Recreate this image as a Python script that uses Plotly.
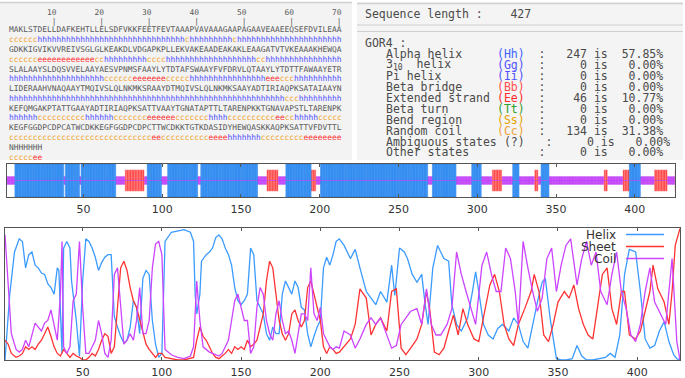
import plotly.graph_objects as go

W, H = 685, 378

# ---------------- data ----------------
SEQ_LINES = [
    "MAKLSTDELLDAFKEHTLLELSDFVKKFEETFEVTAAAPVAVAAAGAAPAGAAVEAAEEQSEFDVILEAA",
    "GDKKIGVIKVVREIVSGLGLKEAKDLVDGAPKPLLEKVAKEAADEAKAKLEAAGATVTVKEAAAKHEWQA",
    "SLALAAYSLDQSVVELAAYAESVPNMSFAAYLYTDTAFSWAAYFVFDRVLQTAAYLYTDTTFAWAAYETR",
    "LIDERAAHVNAQAAYTMQIVSLQLNKMKSRAAYDTMQIVSLQLNKMKSAAYADTIRIAQPKSATAIAAYN",
    "KEFQMGAKPTATTGAAYADTIRIAQPKSATTVAAYTGNATAPTTLTARENPKKTGNAVAPSTLTARENPK",
    "KEGFGGDPCDPCATWCDKKEGFGGDPCDPCTTWCDKKTGTKDASIDYHEWQASKKAQPKSATTVFDVTTL",
    "NHHHHHH",
]
PRED_LINES = [
    "cccccc" "hhhhhhhhhh" "hhhhhhhhhh" "hhhhhhhhhh" "h" "c" "hhhhhhhhh" "c" "hhhhhhhhhh" "hhhhhhhhhh" "hh",
    "cccccc" "eeeeeeeeee" "ee" "cc" "hhhhhhhhh" "cccc" "hhhhhhhhhh" "hhhhhhhhh" "cc" "hhhhhhhhhh" "hhhhhh",
    "hhhhhhhhhh" "hhhhhhhhhh" "cccccc" "eeeeeee" "ccccc" "hhhhhhhhhh" "hhhhhh" "eee" "ccc" "hhhhhhhhhh",
    "hhhhhhhhhh" "hhhhhhhhhh" "hhhhhhhhhh" "hhhhhhhhhh" "hhhhhhhhhh" "hhhhhhhh" "ccc" "hhhhhhhhh",
    "hhhhhh" "cccccccccc" "hhhhhh" "ccccccc" "eeeeee" "ccccccc" "hhhh" "cccccccccc" "ee" "cc" "hhhhh" "ccccc",
    "cccccccccc" "cccccccccc" "cccccccccc" "ee" "cccccccccc" "eeee" "hhhhhhh" "ccccccccc" "eeeeeeee",
    "ccccc" "ee",
]
RULER_TICKS = [10, 20, 30, 40, 50, 60, 70]

STAT_NAMES = ["Alpha helix", "3<sub>10</sub>", "Pi helix", "Beta bridge", "Extended strand",
              "Beta turn", "Bend region", "Random coil", "Ambiguous states", "Other states"]
STAT_CODES = ["Hh", "Gg", "Ii", "Bb", "Ee", "Tt", "Ss", "Cc", "?", ""]
STAT_COUNTS = ["247", "0", "0", "0", "46", "0", "0", "134", "0", "0"]
STAT_PCTS = ["57.85%", "0.00%", "0.00%", "0.00%", "10.77%", "0.00%", "0.00%", "31.38%", "0.00%", "0.00%"]
SEQ_LENGTH = "427"

AXIS_TICKS = [50, 100, 150, 200, 250, 300, 350, 400]

HELIX_X = [1, 4, 7, 10, 12, 14, 16, 18, 20, 22, 24, 26, 28, 30, 32, 34, 35, 36, 37, 38, 40, 42, 43, 44, 46, 48,
           50, 52, 54, 56, 58, 60, 62, 64, 66, 68, 69, 70, 72, 74, 76, 78, 80, 82, 84, 86, 88, 90, 92, 94, 96,
           98, 100, 102, 106, 110, 114, 118, 120, 121, 122, 124, 125, 128, 130, 132, 134, 136, 138, 140, 142,
           144, 146, 148, 150, 152, 154, 156, 158, 160, 162, 164, 166, 168, 170, 172, 174, 176, 178, 180, 182,
           184, 186, 188, 190, 192, 194, 196, 198, 200, 202, 204, 206, 208, 210, 212, 215, 219, 222, 225, 229,
           232, 235, 238, 242, 245, 247, 250, 253, 255, 258, 261, 264, 266, 268, 271, 274, 278, 281, 283, 286,
           289, 293, 296, 298, 300, 303, 306, 309, 312, 315, 319, 322, 325, 328, 331, 334, 337, 340, 342, 345,
           349, 352, 355, 359, 362, 365, 368, 372, 376, 380, 383, 386, 389, 392, 395, 399, 402, 405, 408, 411,
           414, 417, 420, 423, 425, 427]
HELIX = [0.0, 0.5, 0.82, 0.92, 0.9, 0.7, 0.8, 0.82, 0.72, 0.7, 0.66, 0.65, 0.58, 0.55, 0.5, 0.7, 0.68, 0.4,
         0.05, 0.85, 0.9, 0.85, 0.6, 0.5, 0.3, 0.03, 0.6, 0.92, 0.9, 0.85, 0.78, 0.68, 0.74, 0.78, 0.8, 0.8,
         0.5, 0.33, 0.25, 0.18, 0.13, 0.15, 0.25, 0.45, 0.4, 0.2, 0.62, 0.68, 0.65, 0.3, 0.12, 0.02, 0.05, 0.9,
         0.97, 0.98, 0.99, 0.97, 0.9, 0.5, 0.35, 0.5, 0.75, 0.8, 0.82, 0.85, 0.93, 0.95, 0.92, 0.85, 0.8,
         0.72, 0.55, 0.45, 0.42, 0.45, 0.5, 0.85, 0.8, 0.45, 0.4, 0.35, 0.2, 0.15, 0.25, 0.2, 0.2, 0.5, 0.6,
         0.55, 0.5, 0.6, 0.55, 0.4, 0.38, 0.2, 0.1, 0.18, 0.25, 0.3, 0.7, 0.78, 0.72, 0.8, 0.9, 0.92, 0.87,
         0.77, 0.84, 0.70, 0.52, 0.47, 0.42, 0.52, 0.44, 0.72, 0.49, 0.85, 0.82, 0.77, 0.65, 0.59, 0.65, 0.44,
         0.27, 0.70, 0.87, 0.77, 0.75, 0.42, 0.27, 0.22, 0.32, 0.52, 0.67, 0.52, 0.27, 0.19, 0.16, 0.24, 0.27,
         0.22, 0.32, 0.27, 0.14, 0.09, 0.27, 0.44, 0.59, 0.62, 0.32, 0.01, 0.0, 0.0, 0.01, 0.11, 0.03, 0.0,
         0.0, 0.01, 0.02, 0.05, 0.02, 0.19, 0.65, 0.84, 0.82, 0.52, 0.16, 0.09, 0.11, 0.22, 0.29, 0.14, 0.04,
         0.01, 0.0]

SHEET_X = [1, 3, 5, 8, 10, 12, 14, 16, 18, 20, 22, 24, 26, 28, 30, 32, 34, 36, 38, 40, 42, 44, 46, 48, 50,
           52, 54, 56, 58, 60, 62, 64, 66, 68, 70, 72, 74, 76, 78, 80, 82, 84, 86, 88, 90, 92, 94, 96, 98, 100,
           102, 106, 110, 114, 118, 120, 122, 124, 126, 128, 130, 132, 134, 136, 138, 140, 142, 144, 146, 148,
           150, 152, 154, 156, 158, 160, 162, 164, 166, 168, 170, 172, 174, 176, 178, 180, 182, 184, 186, 188,
           190, 192, 194, 196, 198, 200, 202, 204, 206, 208, 210, 212, 219, 222, 225, 229, 232, 235, 238, 242,
           245, 248, 251, 254, 257, 261, 264, 267, 269, 272, 275, 278, 281, 284, 287, 290, 293, 297, 300, 303,
           307, 310, 313, 316, 319, 322, 325, 329, 333, 335, 338, 341, 344, 347, 350, 354, 357, 360, 363, 366,
           369, 372, 375, 378, 381, 384, 387, 390, 392, 395, 399, 402, 405, 408, 410, 413, 417, 420, 422, 424,
           427]
SHEET = [0.15, 0.12, 0.05, 0.02, 0.03, 0.05, 0.1, 0.08, 0.1, 0.08, 0.12, 0.15, 0.2, 0.25, 0.18, 0.1, 0.05,
         0.03, 0.08, 0.05, 0.02, 0.05, 0.03, 0.02, 0.0, 0.0, 0.02, 0.05, 0.03, 0.08, 0.15, 0.2, 0.18, 0.05,
         0.1, 0.4, 0.7, 0.75, 0.68, 0.55, 0.45, 0.4, 0.3, 0.2, 0.12, 0.08, 0.05, 0.02, 0.05, 0.05, 0.02, 0.01,
         0.0, 0.0, 0.01, 0.02, 0.15, 0.25, 0.18, 0.15, 0.1, 0.05, 0.02, 0.01, 0.03, 0.05, 0.08, 0.05, 0.1,
         0.08, 0.1, 0.08, 0.15, 0.1, 0.12, 0.15, 0.25, 0.35, 0.6, 0.75, 0.7, 0.5, 0.3, 0.2, 0.15, 0.2, 0.35,
         0.38, 0.3, 0.25, 0.3, 0.55, 0.6, 0.5, 0.4, 0.3, 0.1, 0.05, 0.1, 0.08, 0.05, 0.06, 0.16, 0.27, 0.54,
         0.47, 0.19, 0.27, 0.32, 0.22, 0.52, 0.54, 0.09, 0.04, 0.09, 0.16, 0.27, 0.52, 0.39, 0.06, 0.04, 0.09,
         0.22, 0.34, 0.19, 0.39, 0.27, 0.16, 0.14, 0.32, 0.57, 0.65, 0.52, 0.27, 0.16, 0.11, 0.27, 0.39, 0.52,
         0.65, 0.52, 0.19, 0.14, 0.27, 0.44, 0.52, 0.47, 0.57, 0.39, 0.27, 0.19, 0.16, 0.39, 0.65, 0.70, 0.39,
         0.27, 0.52, 0.52, 0.19, 0.16, 0.22, 0.37, 0.52, 0.72, 0.54, 0.44, 0.27, 0.52, 0.87, 1.0]

COIL_X = [1, 3, 5, 8, 10, 12, 14, 16, 18, 20, 22, 24, 26, 28, 30, 32, 34, 36, 37, 38, 40, 42, 44, 46, 48, 50,
          52, 54, 56, 58, 60, 62, 64, 66, 68, 70, 72, 74, 76, 78, 80, 82, 84, 86, 88, 90, 92, 94, 96, 98, 100,
          102, 106, 110, 114, 118, 120, 122, 124, 126, 128, 130, 132, 134, 136, 138, 140, 142, 144, 146, 148,
          150, 152, 154, 156, 158, 160, 162, 164, 166, 168, 170, 172, 174, 176, 178, 180, 182, 184, 186, 188,
          190, 192, 194, 196, 198, 200, 202, 204, 206, 208, 210, 212, 215, 219, 222, 225, 229, 232, 235, 238,
          242, 245, 248, 251, 254, 257, 261, 264, 267, 270, 273, 276, 280, 283, 286, 289, 292, 295, 298, 302,
          305, 308, 311, 314, 317, 320, 323, 325, 328, 331, 334, 337, 340, 343, 346, 349, 352, 355, 358, 362,
          365, 368, 371, 374, 377, 381, 384, 387, 390, 393, 396, 399, 402, 405, 408, 411, 415, 418, 420, 422,
          425, 427]
COIL = [0.95, 0.6, 0.2, 0.08, 0.06, 0.08, 0.15, 0.1, 0.2, 0.28, 0.25, 0.22, 0.28, 0.3, 0.38, 0.25, 0.15, 0.5,
        0.9, 0.1, 0.05, 0.1, 0.45, 0.5, 0.9, 0.4, 0.05, 0.05, 0.1, 0.15, 0.3, 0.2, 0.05, 0.02, 0.15, 0.65, 0.7,
        0.4, 0.12, 0.15, 0.2, 0.15, 0.3, 0.55, 0.2, 0.2, 0.3, 0.7, 0.88, 0.9, 0.8, 0.08, 0.04, 0.02, 0.01,
        0.03, 0.1, 0.6, 0.3, 0.1, 0.08, 0.06, 0.05, 0.04, 0.03, 0.05, 0.1, 0.15, 0.3, 0.45, 0.5, 0.4, 0.3,
        0.3, 0.05, 0.1, 0.4, 0.55, 0.5, 0.3, 0.2, 0.15, 0.35, 0.45, 0.3, 0.2, 0.22, 0.15, 0.05, 0.2, 0.35,
        0.35, 0.3, 0.7, 0.35, 0.3, 0.4, 0.2, 0.15, 0.1, 0.08, 0.1, 0.09, 0.22, 0.19, 0.09, 0.16, 0.27, 0.32,
        0.27, 0.32, 0.19, 0.09, 0.11, 0.27, 0.32, 0.37, 0.39, 0.27, 0.54, 0.27, 0.19, 0.19, 0.27, 0.39, 0.82,
        0.65, 0.52, 0.39, 0.27, 0.72, 0.82, 0.65, 0.52, 0.52, 0.85, 0.77, 0.52, 0.27, 0.90, 0.70, 0.52, 0.37,
        0.47, 0.77, 0.85, 0.52, 0.72, 0.87, 0.92, 0.57, 0.77, 0.90, 0.72, 0.82, 0.52, 0.42, 0.65, 0.82, 0.52,
        0.39, 0.19, 0.14, 0.27, 0.52, 0.70, 0.44, 0.34, 0.27, 0.52, 0.77, 0.14, 0.0]

SERIES_NAMES = ["Helix", "Sheet", "Coil"]

# ---------------- styles ----------------
C_H, C_E, C_C = "#3b9bff", "#ff3333", "#cc44ff"
PRED_COLORS = {"h": "#5050ff", "e": "#ff2b2b", "c": "#f2a531"}
CODE_COLORS = {"Hh": "#3f63ff", "Gg": "#5050ff", "Ii": "#5050ff", "Bb": "#ff4d4d", "Ee": "#ff2b2b",
               "Tt": "#2f9f2f", "Ss": "#e8a200", "Cc": "#f0a030", "?": "#555555", "": "#555555"}
NB = "\u00a0"


def fx(p):
    return p / W


def fy(p):
    return 1 - p / H


fig = go.Figure()

# ---- track of predicted states ----
pred = "".join(PRED_LINES)
track_style = {
    "h": dict(base=-1.0, h=2.0, color="#45a0ff", line="#1e74dc"),
    "e": dict(base=-0.64, h=1.28, color="#ff3838", line="#ff8a8a"),
    "c": dict(base=-0.23, h=0.46, color="#d058ff", line="#b838f0"),
}
for k in ["c", "e", "h"]:
    xs = [i + 1 for i, s in enumerate(pred) if s == k]
    st = track_style[k]
    fig.add_trace(go.Bar(x=xs, y=[st["h"]] * len(xs), base=st["base"], width=1,
                         marker=dict(color=st["color"], line=dict(color=st["line"], width=0.5)),
                         xaxis="x", yaxis="y", showlegend=False, hoverinfo="skip"))
fig.add_trace(go.Scatter(x=[1, len(pred)], y=[0, 0], mode="lines",
                         line=dict(color="#c040ff", width=0.7), xaxis="x", yaxis="y",
                         showlegend=False, hoverinfo="skip"))

# ---- probability curves ----
for xs, ys, col in [(HELIX_X, HELIX, C_H), (SHEET_X, SHEET, C_E), (COIL_X, COIL, C_C)]:
    fig.add_trace(go.Scatter(x=xs, y=ys, mode="lines", line=dict(color=col, width=1.3),
                             xaxis="x2", yaxis="y2", showlegend=False, hoverinfo="skip"))

axis_common = dict(showgrid=False, zeroline=False, showline=True, linecolor="#555", linewidth=1,
                   mirror="ticks", ticks="inside", ticklen=3, tickcolor="#555", ticklabelstandoff=2)
fig.update_layout(
    width=W, height=H, margin=dict(l=0, r=0, t=0, b=0),
    paper_bgcolor="white", plot_bgcolor="white", barmode="overlay", bargap=0,
    xaxis=dict(domain=[fx(7), fx(675)], range=[1.5, 425.5], anchor="y", tickvals=AXIS_TICKS,
               tickfont=dict(family="DejaVu Sans", size=11, color="#333"), **axis_common),
    yaxis=dict(domain=[fy(197), fy(164)], range=[-1, 1], anchor="x", showticklabels=False,
               showgrid=False, zeroline=False, showline=True, linecolor="#555", mirror=True, ticks=""),
    xaxis2=dict(domain=[fx(5), fx(680)], range=[1, 427], anchor="y2", tickvals=AXIS_TICKS,
                tickfont=dict(family="DejaVu Sans", size=11, color="#333"), **axis_common),
    yaxis2=dict(domain=[fy(360), fy(228.3)], range=[0, 1], anchor="x2", showticklabels=False,
                showgrid=False, zeroline=False, showline=True, linecolor="#555", mirror=True, ticks=""),
)

shapes = [
    dict(type="rect", xref="paper", yref="paper", x0=fx(0), x1=fx(352), y0=fy(160), y1=fy(2),
         fillcolor="#f3f3f3", line=dict(width=0), layer="below"),
    dict(type="rect", xref="paper", yref="paper", x0=fx(357), x1=fx(683), y0=fy(160), y1=fy(2),
         fillcolor="#f4f4f4", line=dict(width=0), layer="below"),
    dict(type="line", xref="paper", yref="paper", x0=fx(0), x1=fx(352), y0=fy(2.5), y1=fy(2.5),
         line=dict(color="#d0d0d0", width=1.5)),
    dict(type="line", xref="paper", yref="paper", x0=fx(357), x1=fx(683), y0=fy(3.5), y1=fy(3.5),
         line=dict(color="#d0d0d0", width=1.5)),
    dict(type="line", xref="paper", yref="paper", x0=fx(357), x1=fx(683), y0=fy(25), y1=fy(25),
         line=dict(color="#cfcfcf", width=1)),
    dict(type="line", xref="paper", yref="paper", x0=fx(357), x1=fx(683), y0=fy(31.5), y1=fy(31.5),
         line=dict(color="#cfcfcf", width=1)),
]

ann = []
MONO = "DejaVu Sans Mono"
SEQ_FONT = dict(family=MONO, size=7.9, color="#5a5a5a")
x_text = 7.5
row_dy = 9.77

# ruler
ruler = ""
ticks = ""
for t in RULER_TICKS:
    lab = str(t)
    ruler += NB * (10 - len(lab)) + lab
    ticks += NB * 9 + "|"
ann.append(dict(x=fx(x_text), y=fy(12.5), text=ruler, font=SEQ_FONT))
ann.append(dict(x=fx(x_text), y=fy(22), text=ticks, font=SEQ_FONT))

for i, (s, p) in enumerate(zip(SEQ_LINES, PRED_LINES)):
    ann.append(dict(x=fx(x_text), y=fy(30 + 2 * i * row_dy), text=s, font=SEQ_FONT))
    runs = []
    cur, buf = None, ""
    for ch in p:
        if ch != cur and buf:
            runs.append(f"<span style='color:{PRED_COLORS[cur]}'>{buf}</span>")
            buf = ""
        cur = ch
        buf += ch
    if buf:
        runs.append(f"<span style='color:{PRED_COLORS[cur]}'>{buf}</span>")
    ann.append(dict(x=fx(x_text), y=fy(30 + (2 * i + 1) * row_dy), text="".join(runs), font=SEQ_FONT))

# stats panel
STAT_SIZE = 11.5
STAT_FONT = dict(family=MONO, size=STAT_SIZE, color="#4a4a4a")
cw = 0.602 * STAT_SIZE
x0 = 364
ann.append(dict(x=fx(x0), y=fy(14), text="Sequence" + NB + "length" + NB + ":" + NB * 4 + SEQ_LENGTH,
                font=STAT_FONT))
ann.append(dict(x=fx(x0), y=fy(43), text="GOR4" + NB + ":", font=STAT_FONT))
for j, (nm, cd, cnt, pc) in enumerate(zip(STAT_NAMES, STAT_CODES, STAT_COUNTS, STAT_PCTS)):
    yy = 53.9 + j * 10.95
    label = nm.replace(" ", NB)
    if cd == "Gg":
        label = nm + NB * 2 + "helix"
    ann.append(dict(x=fx(x0 + 3 * cw), y=fy(yy), text=label, font=STAT_FONT))
    tail = cnt.rjust(6).replace(" ", NB) + NB + "is" + pc.rjust(8).replace(" ", NB)
    if cd == "?":
        rest = NB + "(?)" + NB * 3 + ":" + tail
    elif cd == "":
        rest = NB * 6 + ":" + tail
    else:
        rest = f"<span style='color:{CODE_COLORS[cd]}'>({cd})</span>" + NB * 2 + ":" + tail
    ann.append(dict(x=fx(x0 + 19 * cw), y=fy(yy), text=rest, font=STAT_FONT))

# legend for curves (text left, sample line right)
LEG_FONT = dict(family="DejaVu Sans", size=12, color="#333")
for k, (nm, col) in enumerate(zip(SERIES_NAMES, [C_H, C_E, C_C])):
    yy = 234.5 + k * 12
    ann.append(dict(x=fx(617), y=fy(yy), text=nm, font=LEG_FONT, xanchor="right"))
    shapes.append(dict(type="line", xref="paper", yref="paper", x0=fx(626), x1=fx(664), y0=fy(yy),
                       y1=fy(yy), line=dict(color=col, width=1.3)))

for a in ann:
    a.setdefault("xanchor", "left")
    a.update(xref="paper", yref="paper", yanchor="middle", showarrow=False, borderpad=0)

fig.update_layout(shapes=shapes, annotations=ann, hovermode=False)
fig.write_html("out.html", config={"displayModeBar": False, "staticPlot": True},
               post_script="document.body.style.margin='0px';document.body.style.overflow='hidden';")
